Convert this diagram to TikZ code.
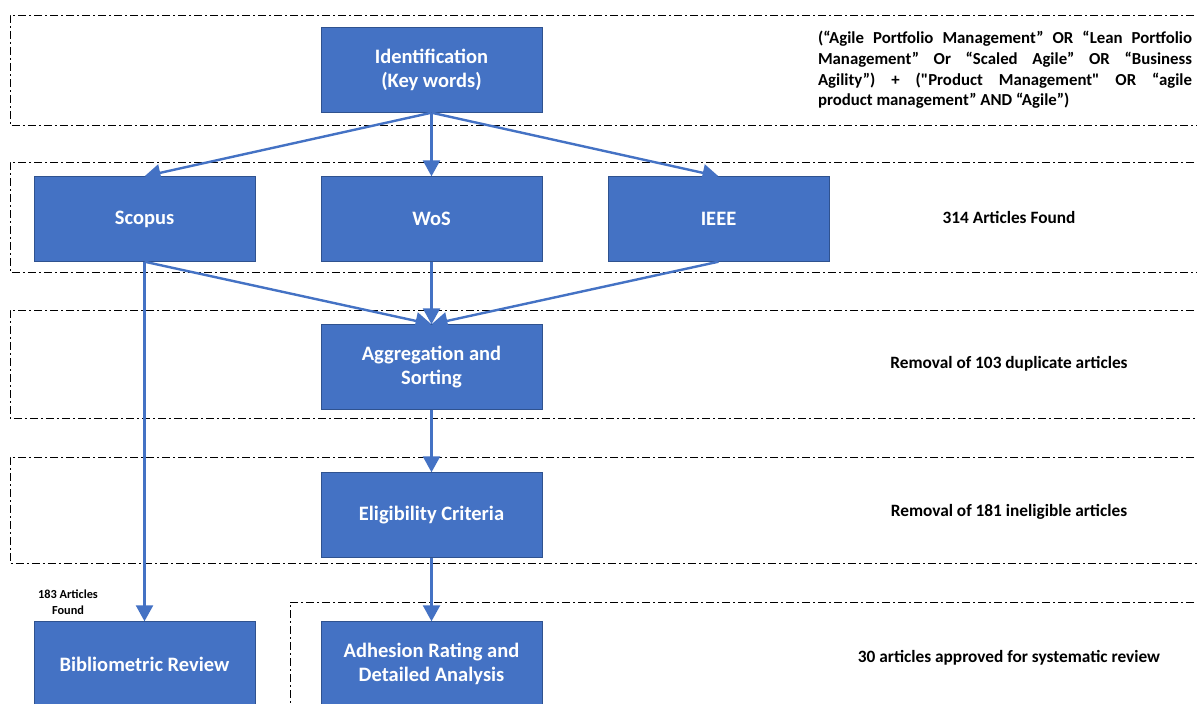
\documentclass[tikz,border=0pt]{standalone}
\usepackage{fontspec}
\setmainfont{Carlito}[Ligatures=TeXOff]
\usetikzlibrary{arrows.meta}
\definecolor{boxblue}{HTML}{4472C4}
\definecolor{boxedge}{HTML}{2F528F}
\begin{document}
\begin{tikzpicture}[x=1pt,y=-1pt,
    stage/.style={draw=boxedge,fill=boxblue,text=white,align=center,
      minimum width=221pt,minimum height=85pt,inner sep=2pt,
      font=\fontsize{20.5}{24}\selectfont\bfseries},
    flow/.style={draw=boxblue,line width=2.4pt,-{Triangle[length=16pt,width=17pt]}},
    frame/.style={line width=0.9pt,dash pattern=on 8pt off 3pt on 2pt off 3pt},
    note/.style={align=center,font=\fontsize{17.3}{20}\selectfont\bfseries}]
  \useasboundingbox (0,0) rectangle (1197,704);
  % stage frames
  \draw[frame] (1210,15) -| (10,125) -- (1210,125);
  \draw[frame] (1210,162) -| (10,272) -- (1210,272);
  \draw[frame] (1210,310) -| (10,418) -- (1210,418);
  \draw[frame] (1210,457) -| (10,563) -- (1210,563);
  \draw[frame] (1210,602) -| (290,720);
  % boxes
  \node[stage] (ident) at (431.5,70) {Identification\\(Key words)};
  \node[stage] (scopus) at (144.5,219) {Scopus};
  \node[stage] (wos) at (431.5,219) {WoS};
  \node[stage] (ieee) at (718.5,219) {IEEE};
  \node[stage] (aggr) at (431.5,367) {Aggregation and\\Sorting};
  \node[stage] (elig) at (431.5,515) {Eligibility Criteria};
  \node[stage] (biblio) at (144.5,664) {Bibliometric Review};
  \node[stage] (adhes) at (431.5,664) {Adhesion Rating and\\Detailed Analysis};
  % notes
  \node[align=justify,text width=374pt,inner sep=0pt,
    font=\fontsize{16.8}{20.7}\selectfont\bfseries] (query) at (1005,70)
    {(“Agile Portfolio Management” OR “Lean Portfolio\linebreak
     Management” Or “Scaled Agile” OR “Business\linebreak
     Agility”) + ("Product Management" OR “agile\linebreak
     product management” AND “Agile”)};
  \node[note] (found) at (1009,217) {314 Articles Found};
  \node[note] (dupl) at (1009,364) {Removal of 103 duplicate articles};
  \node[note] (inel) at (1009,512) {Removal of 181 ineligible articles};
  \node[note] (appr) at (1009,658) {30 articles approved for systematic review};
  \node[align=center,font=\fontsize{12.3}{15.5}\selectfont\bfseries] (biblnote) at (68,602) {183 Articles\\Found};
  % connectors
  \draw[flow] (ident.south) -- (scopus.north);
  \draw[flow] (ident.south) -- (wos.north);
  \draw[flow] (ident.south) -- (ieee.north);
  \draw[flow] (scopus.south) -- (aggr.north);
  \draw[flow] (wos.south) -- (aggr.north);
  \draw[flow] (ieee.south) -- (aggr.north);
  \draw[flow] (scopus.south) -- (biblio.north);
  \draw[flow] (aggr.south) -- (elig.north);
  \draw[flow] (elig.south) -- (adhes.north);
\end{tikzpicture}
\end{document}
